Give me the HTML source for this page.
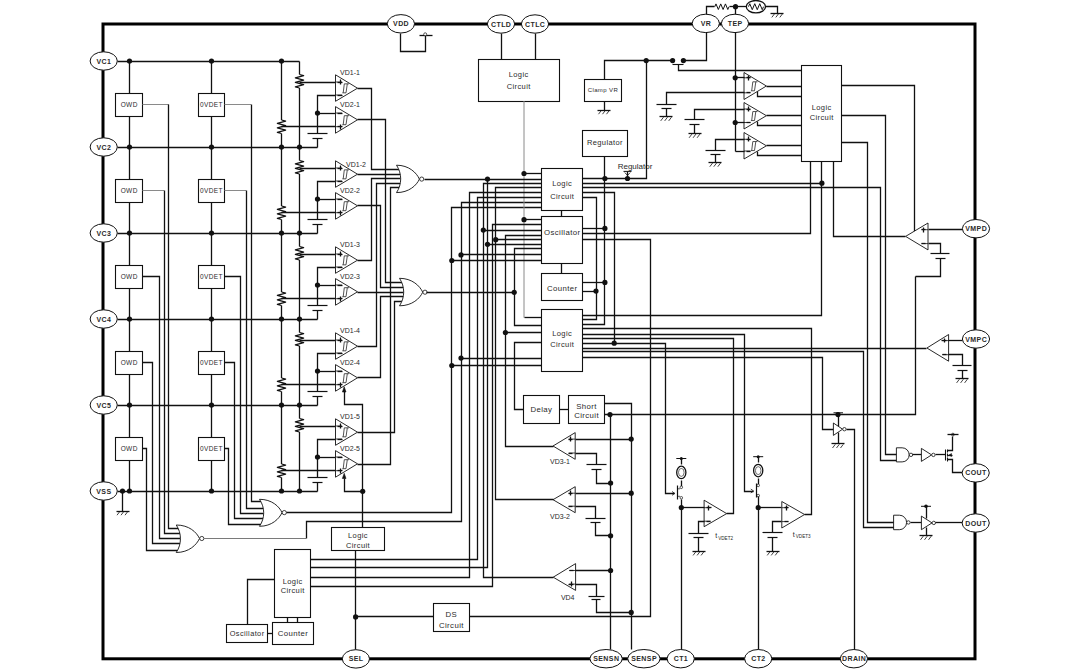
<!DOCTYPE html>
<html><head><meta charset="utf-8"><title>Circuit</title>
<style>
html,body{margin:0;padding:0;background:#fff;}
body{width:1080px;height:669px;overflow:hidden;}
svg{display:block;font-family:"Liberation Sans", sans-serif;}
</style></head>
<body>
<svg width="1080" height="669" viewBox="0 0 1080 669">
<rect x="0" y="0" width="1080" height="669" fill="#fff"/>
<rect x="103" y="24" width="872" height="634.8" fill="none" stroke="#000" stroke-width="3"/>
<polyline points="117.5,61.5 299.5,61.5" fill="none" stroke="#111" stroke-width="1.3"/>
<polyline points="117.5,147.5 317.5,147.5" fill="none" stroke="#111" stroke-width="1.3"/>
<polyline points="117.5,233.5 317.5,233.5" fill="none" stroke="#111" stroke-width="1.3"/>
<polyline points="117.5,319.5 317.5,319.5" fill="none" stroke="#111" stroke-width="1.3"/>
<polyline points="117.5,405.5 317.5,405.5" fill="none" stroke="#111" stroke-width="1.3"/>
<polyline points="117.5,491.5 317.5,491.5" fill="none" stroke="#111" stroke-width="1.3"/>
<polyline points="129.5,61.5 129.5,491.5" fill="none" stroke="#111" stroke-width="1.3"/>
<polyline points="211.5,61.5 211.5,491.5" fill="none" stroke="#111" stroke-width="1.3"/>
<polyline points="281.5,61.5 281.5,491.5" fill="none" stroke="#111" stroke-width="1.3"/>
<polyline points="299.5,61.5 299.5,491.5" fill="none" stroke="#111" stroke-width="1.3"/>
<rect x="115.5" y="93.5" width="27" height="23" fill="#fff" stroke="#111" stroke-width="1.1"/>
<text x="129.2" y="106.84" font-size="6.5" text-anchor="middle" fill="#2a2a2a" letter-spacing="0.4">OWD</text>
<rect x="198.5" y="93.5" width="26" height="23" fill="#fff" stroke="#111" stroke-width="1.1"/>
<text x="211.45" y="106.84" font-size="6.5" text-anchor="middle" fill="#2a2a2a" letter-spacing="0.4">0VDET</text>
<polyline points="142.5,104.5 168.75,104.5" fill="none" stroke="#8a8a8a" stroke-width="1"/>
<polyline points="224.5,104.5 251,104.5" fill="none" stroke="#8a8a8a" stroke-width="1"/>
<polyline points="168.5,104.5 168.5,528.5 180.5,528.5" fill="none" stroke="#111" stroke-width="1.3"/>
<polyline points="251.5,104.5 251.5,501.5 263.5,501.5" fill="none" stroke="#111" stroke-width="1.3"/>
<rect x="295.5" y="74.5" width="8" height="13.5" fill="#fff"/>
<polyline points="299.5,74.5 303.7,75.62 295.3,77.88 303.7,80.12 295.3,82.38 303.7,84.62 295.3,86.88 299.5,88" fill="none" stroke="#111" stroke-width="1.1" stroke-linejoin="round"/>
<rect x="277.5" y="120" width="8" height="13.5" fill="#fff"/>
<polyline points="281.5,120 285.7,121.12 277.3,123.38 285.7,125.62 277.3,127.88 285.7,130.12 277.3,132.38 281.5,133.5" fill="none" stroke="#111" stroke-width="1.1" stroke-linejoin="round"/>
<polyline points="299.5,82.5 335.5,82.5" fill="none" stroke="#111" stroke-width="1.3"/>
<polyline points="281.5,126.5 335.5,126.5" fill="none" stroke="#111" stroke-width="1.3"/>
<polyline points="335.5,95.5 317.5,95.5 317.5,133.5" fill="none" stroke="#111" stroke-width="1.3"/>
<circle cx="317.5" cy="113" r="2.6" fill="#111"/>
<polyline points="317.5,113.5 335.5,113.5" fill="none" stroke="#111" stroke-width="1.3"/>
<polyline points="307.5,133.5 327.5,133.5" fill="none" stroke="#111" stroke-width="1.2"/>
<polyline points="312.5,138.5 322.5,138.5" fill="none" stroke="#111" stroke-width="1.2"/>
<polyline points="317.5,138.5 317.5,147.5" fill="none" stroke="#111" stroke-width="1.3"/>
<path d="M335.5 74.8 L357.5 88.2 L335.5 101.3 Z" fill="#fff" stroke="#111" stroke-width="0.9"/>
<polyline points="335.5,82 342,82" fill="none" stroke="#111" stroke-width="0.8"/>
<polyline points="335.5,95 342,95" fill="none" stroke="#111" stroke-width="0.8"/>
<polyline points="337.5,82.5 342.5,82.5" fill="none" stroke="#111" stroke-width="1.3"/>
<polyline points="340.5,79.5 340.5,84.5" fill="none" stroke="#111" stroke-width="1.3"/>
<polyline points="337.5,95.5 342.5,95.5" fill="none" stroke="#111" stroke-width="1.3"/>
<path d="M349 83.85 H344.3 L343.2 92.85 M342.4 92.85 H346 L347.3 83.85" fill="none" stroke="#333" stroke-width="0.85"/>
<path d="M335.5 106.6 L357.5 119.8 L335.5 133.2 Z" fill="#fff" stroke="#111" stroke-width="0.9"/>
<polyline points="335.5,126.7 342,126.7" fill="none" stroke="#111" stroke-width="0.8"/>
<polyline points="335.5,113 342,113" fill="none" stroke="#111" stroke-width="0.8"/>
<polyline points="337.5,126.5 342.5,126.5" fill="none" stroke="#111" stroke-width="1.3"/>
<polyline points="340.5,124.5 340.5,129.5" fill="none" stroke="#111" stroke-width="1.3"/>
<polyline points="337.5,113.5 342.5,113.5" fill="none" stroke="#111" stroke-width="1.3"/>
<path d="M349 115.7 H344.3 L343.2 124.7 M342.4 124.7 H346 L347.3 115.7" fill="none" stroke="#333" stroke-width="0.85"/>
<text x="350" y="74.72" font-size="7" text-anchor="middle" fill="#2a2a2a">VD1-1</text>
<text x="350" y="106.72" font-size="7" text-anchor="middle" fill="#2a2a2a">VD2-1</text>
<rect x="115.5" y="179.5" width="27" height="23" fill="#fff" stroke="#111" stroke-width="1.1"/>
<text x="129.2" y="192.84" font-size="6.5" text-anchor="middle" fill="#2a2a2a" letter-spacing="0.4">OWD</text>
<rect x="198.5" y="179.5" width="26" height="23" fill="#fff" stroke="#111" stroke-width="1.1"/>
<text x="211.45" y="192.84" font-size="6.5" text-anchor="middle" fill="#2a2a2a" letter-spacing="0.4">0VDET</text>
<polyline points="142.5,190.5 164,190.5" fill="none" stroke="#8a8a8a" stroke-width="1"/>
<polyline points="224.5,190.5 246,190.5" fill="none" stroke="#8a8a8a" stroke-width="1"/>
<polyline points="164.5,190.5 164.5,533.5 180.5,533.5" fill="none" stroke="#111" stroke-width="1.3"/>
<polyline points="246.5,190.5 246.5,508.5 263.5,508.5" fill="none" stroke="#111" stroke-width="1.3"/>
<rect x="295.5" y="160.5" width="8" height="13.5" fill="#fff"/>
<polyline points="299.5,160.5 303.7,161.62 295.3,163.88 303.7,166.12 295.3,168.38 303.7,170.62 295.3,172.88 299.5,174" fill="none" stroke="#111" stroke-width="1.1" stroke-linejoin="round"/>
<rect x="277.5" y="206" width="8" height="13.5" fill="#fff"/>
<polyline points="281.5,206 285.7,207.12 277.3,209.38 285.7,211.62 277.3,213.88 285.7,216.12 277.3,218.38 281.5,219.5" fill="none" stroke="#111" stroke-width="1.1" stroke-linejoin="round"/>
<polyline points="299.5,168.5 335.5,168.5" fill="none" stroke="#111" stroke-width="1.3"/>
<polyline points="281.5,212.5 335.5,212.5" fill="none" stroke="#111" stroke-width="1.3"/>
<polyline points="335.5,181.5 317.5,181.5 317.5,219.5" fill="none" stroke="#111" stroke-width="1.3"/>
<circle cx="317.5" cy="199" r="2.6" fill="#111"/>
<polyline points="317.5,199.5 335.5,199.5" fill="none" stroke="#111" stroke-width="1.3"/>
<polyline points="307.5,219.5 327.5,219.5" fill="none" stroke="#111" stroke-width="1.2"/>
<polyline points="312.5,224.5 322.5,224.5" fill="none" stroke="#111" stroke-width="1.2"/>
<polyline points="317.5,224.5 317.5,233.5" fill="none" stroke="#111" stroke-width="1.3"/>
<path d="M335.5 160.8 L357.5 174.2 L335.5 187.3 Z" fill="#fff" stroke="#111" stroke-width="0.9"/>
<polyline points="335.5,168 342,168" fill="none" stroke="#111" stroke-width="0.8"/>
<polyline points="335.5,181 342,181" fill="none" stroke="#111" stroke-width="0.8"/>
<polyline points="337.5,168.5 342.5,168.5" fill="none" stroke="#111" stroke-width="1.3"/>
<polyline points="340.5,165.5 340.5,170.5" fill="none" stroke="#111" stroke-width="1.3"/>
<polyline points="337.5,181.5 342.5,181.5" fill="none" stroke="#111" stroke-width="1.3"/>
<path d="M349 169.85 H344.3 L343.2 178.85 M342.4 178.85 H346 L347.3 169.85" fill="none" stroke="#333" stroke-width="0.85"/>
<path d="M335.5 192.6 L357.5 205.8 L335.5 219.2 Z" fill="#fff" stroke="#111" stroke-width="0.9"/>
<polyline points="335.5,212.7 342,212.7" fill="none" stroke="#111" stroke-width="0.8"/>
<polyline points="335.5,199 342,199" fill="none" stroke="#111" stroke-width="0.8"/>
<polyline points="337.5,212.5 342.5,212.5" fill="none" stroke="#111" stroke-width="1.3"/>
<polyline points="340.5,210.5 340.5,215.5" fill="none" stroke="#111" stroke-width="1.3"/>
<polyline points="337.5,199.5 342.5,199.5" fill="none" stroke="#111" stroke-width="1.3"/>
<path d="M349 201.7 H344.3 L343.2 210.7 M342.4 210.7 H346 L347.3 201.7" fill="none" stroke="#333" stroke-width="0.85"/>
<text x="356" y="167.12" font-size="7" text-anchor="middle" fill="#2a2a2a">VD1-2</text>
<text x="350" y="192.72" font-size="7" text-anchor="middle" fill="#2a2a2a">VD2-2</text>
<rect x="115.5" y="265.5" width="27" height="23" fill="#fff" stroke="#111" stroke-width="1.1"/>
<text x="129.2" y="278.84" font-size="6.5" text-anchor="middle" fill="#2a2a2a" letter-spacing="0.4">OWD</text>
<rect x="198.5" y="265.5" width="26" height="23" fill="#fff" stroke="#111" stroke-width="1.1"/>
<text x="211.45" y="278.84" font-size="6.5" text-anchor="middle" fill="#2a2a2a" letter-spacing="0.4">0VDET</text>
<polyline points="142.5,276.5 159.5,276.5 159.5,538.5 180.5,538.5" fill="none" stroke="#111" stroke-width="1.3"/>
<polyline points="224.5,276.5 240.5,276.5 240.5,513.5 263.5,513.5" fill="none" stroke="#111" stroke-width="1.3"/>
<rect x="295.5" y="246.5" width="8" height="13.5" fill="#fff"/>
<polyline points="299.5,246.5 303.7,247.62 295.3,249.88 303.7,252.12 295.3,254.38 303.7,256.62 295.3,258.88 299.5,260" fill="none" stroke="#111" stroke-width="1.1" stroke-linejoin="round"/>
<rect x="277.5" y="292" width="8" height="13.5" fill="#fff"/>
<polyline points="281.5,292 285.7,293.12 277.3,295.38 285.7,297.62 277.3,299.88 285.7,302.12 277.3,304.38 281.5,305.5" fill="none" stroke="#111" stroke-width="1.1" stroke-linejoin="round"/>
<polyline points="299.5,254.5 335.5,254.5" fill="none" stroke="#111" stroke-width="1.3"/>
<polyline points="281.5,298.5 335.5,298.5" fill="none" stroke="#111" stroke-width="1.3"/>
<polyline points="335.5,267.5 317.5,267.5 317.5,305.5" fill="none" stroke="#111" stroke-width="1.3"/>
<circle cx="317.5" cy="285" r="2.6" fill="#111"/>
<polyline points="317.5,285.5 335.5,285.5" fill="none" stroke="#111" stroke-width="1.3"/>
<polyline points="307.5,305.5 327.5,305.5" fill="none" stroke="#111" stroke-width="1.2"/>
<polyline points="312.5,310.5 322.5,310.5" fill="none" stroke="#111" stroke-width="1.2"/>
<polyline points="317.5,310.5 317.5,319.5" fill="none" stroke="#111" stroke-width="1.3"/>
<path d="M335.5 246.8 L357.5 260.2 L335.5 273.3 Z" fill="#fff" stroke="#111" stroke-width="0.9"/>
<polyline points="335.5,254 342,254" fill="none" stroke="#111" stroke-width="0.8"/>
<polyline points="335.5,267 342,267" fill="none" stroke="#111" stroke-width="0.8"/>
<polyline points="337.5,254.5 342.5,254.5" fill="none" stroke="#111" stroke-width="1.3"/>
<polyline points="340.5,251.5 340.5,256.5" fill="none" stroke="#111" stroke-width="1.3"/>
<polyline points="337.5,267.5 342.5,267.5" fill="none" stroke="#111" stroke-width="1.3"/>
<path d="M349 255.85 H344.3 L343.2 264.85 M342.4 264.85 H346 L347.3 255.85" fill="none" stroke="#333" stroke-width="0.85"/>
<path d="M335.5 278.6 L357.5 291.8 L335.5 305.2 Z" fill="#fff" stroke="#111" stroke-width="0.9"/>
<polyline points="335.5,298.7 342,298.7" fill="none" stroke="#111" stroke-width="0.8"/>
<polyline points="335.5,285 342,285" fill="none" stroke="#111" stroke-width="0.8"/>
<polyline points="337.5,298.5 342.5,298.5" fill="none" stroke="#111" stroke-width="1.3"/>
<polyline points="340.5,296.5 340.5,301.5" fill="none" stroke="#111" stroke-width="1.3"/>
<polyline points="337.5,285.5 342.5,285.5" fill="none" stroke="#111" stroke-width="1.3"/>
<path d="M349 287.7 H344.3 L343.2 296.7 M342.4 296.7 H346 L347.3 287.7" fill="none" stroke="#333" stroke-width="0.85"/>
<text x="350" y="246.72" font-size="7" text-anchor="middle" fill="#2a2a2a">VD1-3</text>
<text x="350" y="278.72" font-size="7" text-anchor="middle" fill="#2a2a2a">VD2-3</text>
<rect x="115.5" y="351.5" width="27" height="23" fill="#fff" stroke="#111" stroke-width="1.1"/>
<text x="129.2" y="364.84" font-size="6.5" text-anchor="middle" fill="#2a2a2a" letter-spacing="0.4">OWD</text>
<rect x="198.5" y="351.5" width="26" height="23" fill="#fff" stroke="#111" stroke-width="1.1"/>
<text x="211.45" y="364.84" font-size="6.5" text-anchor="middle" fill="#2a2a2a" letter-spacing="0.4">0VDET</text>
<polyline points="142.5,362.5 152.5,362.5 152.5,543.5 180.5,543.5" fill="none" stroke="#111" stroke-width="1.3"/>
<polyline points="224.5,362.5 234.5,362.5 234.5,518.5 263.5,518.5" fill="none" stroke="#111" stroke-width="1.3"/>
<rect x="295.5" y="332.5" width="8" height="13.5" fill="#fff"/>
<polyline points="299.5,332.5 303.7,333.62 295.3,335.88 303.7,338.12 295.3,340.38 303.7,342.62 295.3,344.88 299.5,346" fill="none" stroke="#111" stroke-width="1.1" stroke-linejoin="round"/>
<rect x="277.5" y="378" width="8" height="13.5" fill="#fff"/>
<polyline points="281.5,378 285.7,379.12 277.3,381.38 285.7,383.62 277.3,385.88 285.7,388.12 277.3,390.38 281.5,391.5" fill="none" stroke="#111" stroke-width="1.1" stroke-linejoin="round"/>
<polyline points="299.5,340.5 335.5,340.5" fill="none" stroke="#111" stroke-width="1.3"/>
<polyline points="281.5,384.5 335.5,384.5" fill="none" stroke="#111" stroke-width="1.3"/>
<polyline points="335.5,353.5 317.5,353.5 317.5,391.5" fill="none" stroke="#111" stroke-width="1.3"/>
<circle cx="317.5" cy="371" r="2.6" fill="#111"/>
<polyline points="317.5,371.5 335.5,371.5" fill="none" stroke="#111" stroke-width="1.3"/>
<polyline points="307.5,391.5 327.5,391.5" fill="none" stroke="#111" stroke-width="1.2"/>
<polyline points="312.5,396.5 322.5,396.5" fill="none" stroke="#111" stroke-width="1.2"/>
<polyline points="317.5,396.5 317.5,405.5" fill="none" stroke="#111" stroke-width="1.3"/>
<path d="M335.5 332.8 L357.5 346.2 L335.5 359.3 Z" fill="#fff" stroke="#111" stroke-width="0.9"/>
<polyline points="335.5,340 342,340" fill="none" stroke="#111" stroke-width="0.8"/>
<polyline points="335.5,353 342,353" fill="none" stroke="#111" stroke-width="0.8"/>
<polyline points="337.5,340.5 342.5,340.5" fill="none" stroke="#111" stroke-width="1.3"/>
<polyline points="340.5,337.5 340.5,342.5" fill="none" stroke="#111" stroke-width="1.3"/>
<polyline points="337.5,353.5 342.5,353.5" fill="none" stroke="#111" stroke-width="1.3"/>
<path d="M349 341.85 H344.3 L343.2 350.85 M342.4 350.85 H346 L347.3 341.85" fill="none" stroke="#333" stroke-width="0.85"/>
<path d="M335.5 364.6 L357.5 377.8 L335.5 391.2 Z" fill="#fff" stroke="#111" stroke-width="0.9"/>
<polyline points="335.5,384.7 342,384.7" fill="none" stroke="#111" stroke-width="0.8"/>
<polyline points="335.5,371 342,371" fill="none" stroke="#111" stroke-width="0.8"/>
<polyline points="337.5,384.5 342.5,384.5" fill="none" stroke="#111" stroke-width="1.3"/>
<polyline points="340.5,382.5 340.5,387.5" fill="none" stroke="#111" stroke-width="1.3"/>
<polyline points="337.5,371.5 342.5,371.5" fill="none" stroke="#111" stroke-width="1.3"/>
<path d="M349 373.7 H344.3 L343.2 382.7 M342.4 382.7 H346 L347.3 373.7" fill="none" stroke="#333" stroke-width="0.85"/>
<text x="350" y="332.72" font-size="7" text-anchor="middle" fill="#2a2a2a">VD1-4</text>
<text x="350" y="364.72" font-size="7" text-anchor="middle" fill="#2a2a2a">VD2-4</text>
<rect x="115.5" y="437.5" width="27" height="23" fill="#fff" stroke="#111" stroke-width="1.1"/>
<text x="129.2" y="450.84" font-size="6.5" text-anchor="middle" fill="#2a2a2a" letter-spacing="0.4">OWD</text>
<rect x="198.5" y="437.5" width="26" height="23" fill="#fff" stroke="#111" stroke-width="1.1"/>
<text x="211.45" y="450.84" font-size="6.5" text-anchor="middle" fill="#2a2a2a" letter-spacing="0.4">0VDET</text>
<polyline points="142.5,448.5 146.5,448.5 146.5,550.5 180.5,550.5" fill="none" stroke="#111" stroke-width="1.3"/>
<polyline points="224.5,448.5 228.5,448.5 228.5,524.5 263.5,524.5" fill="none" stroke="#111" stroke-width="1.3"/>
<rect x="295.5" y="418.5" width="8" height="13.5" fill="#fff"/>
<polyline points="299.5,418.5 303.7,419.62 295.3,421.88 303.7,424.12 295.3,426.38 303.7,428.62 295.3,430.88 299.5,432" fill="none" stroke="#111" stroke-width="1.1" stroke-linejoin="round"/>
<rect x="277.5" y="464" width="8" height="13.5" fill="#fff"/>
<polyline points="281.5,464 285.7,465.12 277.3,467.38 285.7,469.62 277.3,471.88 285.7,474.12 277.3,476.38 281.5,477.5" fill="none" stroke="#111" stroke-width="1.1" stroke-linejoin="round"/>
<polyline points="299.5,426.5 335.5,426.5" fill="none" stroke="#111" stroke-width="1.3"/>
<polyline points="281.5,470.5 335.5,470.5" fill="none" stroke="#111" stroke-width="1.3"/>
<polyline points="335.5,439.5 317.5,439.5 317.5,477.5" fill="none" stroke="#111" stroke-width="1.3"/>
<circle cx="317.5" cy="457" r="2.6" fill="#111"/>
<polyline points="317.5,457.5 335.5,457.5" fill="none" stroke="#111" stroke-width="1.3"/>
<polyline points="307.5,477.5 327.5,477.5" fill="none" stroke="#111" stroke-width="1.2"/>
<polyline points="312.5,482.5 322.5,482.5" fill="none" stroke="#111" stroke-width="1.2"/>
<polyline points="317.5,482.5 317.5,491.5" fill="none" stroke="#111" stroke-width="1.3"/>
<path d="M335.5 418.8 L357.5 432.2 L335.5 445.3 Z" fill="#fff" stroke="#111" stroke-width="0.9"/>
<polyline points="335.5,426 342,426" fill="none" stroke="#111" stroke-width="0.8"/>
<polyline points="335.5,439 342,439" fill="none" stroke="#111" stroke-width="0.8"/>
<polyline points="337.5,426.5 342.5,426.5" fill="none" stroke="#111" stroke-width="1.3"/>
<polyline points="340.5,423.5 340.5,428.5" fill="none" stroke="#111" stroke-width="1.3"/>
<polyline points="337.5,439.5 342.5,439.5" fill="none" stroke="#111" stroke-width="1.3"/>
<path d="M349 427.85 H344.3 L343.2 436.85 M342.4 436.85 H346 L347.3 427.85" fill="none" stroke="#333" stroke-width="0.85"/>
<path d="M335.5 450.6 L357.5 463.8 L335.5 477.2 Z" fill="#fff" stroke="#111" stroke-width="0.9"/>
<polyline points="335.5,470.7 342,470.7" fill="none" stroke="#111" stroke-width="0.8"/>
<polyline points="335.5,457 342,457" fill="none" stroke="#111" stroke-width="0.8"/>
<polyline points="337.5,470.5 342.5,470.5" fill="none" stroke="#111" stroke-width="1.3"/>
<polyline points="340.5,468.5 340.5,473.5" fill="none" stroke="#111" stroke-width="1.3"/>
<polyline points="337.5,457.5 342.5,457.5" fill="none" stroke="#111" stroke-width="1.3"/>
<path d="M349 459.7 H344.3 L343.2 468.7 M342.4 468.7 H346 L347.3 459.7" fill="none" stroke="#333" stroke-width="0.85"/>
<text x="350" y="418.72" font-size="7" text-anchor="middle" fill="#2a2a2a">VD1-5</text>
<text x="350" y="450.72" font-size="7" text-anchor="middle" fill="#2a2a2a">VD2-5</text>
<circle cx="129.5" cy="61" r="2.6" fill="#111"/>
<circle cx="211.5" cy="61" r="2.6" fill="#111"/>
<circle cx="281.5" cy="61" r="2.6" fill="#111"/>
<circle cx="129.5" cy="147" r="2.6" fill="#111"/>
<circle cx="211.5" cy="147" r="2.6" fill="#111"/>
<circle cx="281.5" cy="147" r="2.6" fill="#111"/>
<circle cx="299.5" cy="147" r="2.6" fill="#111"/>
<circle cx="129.5" cy="233" r="2.6" fill="#111"/>
<circle cx="211.5" cy="233" r="2.6" fill="#111"/>
<circle cx="281.5" cy="233" r="2.6" fill="#111"/>
<circle cx="299.5" cy="233" r="2.6" fill="#111"/>
<circle cx="129.5" cy="319" r="2.6" fill="#111"/>
<circle cx="211.5" cy="319" r="2.6" fill="#111"/>
<circle cx="281.5" cy="319" r="2.6" fill="#111"/>
<circle cx="299.5" cy="319" r="2.6" fill="#111"/>
<circle cx="129.5" cy="405" r="2.6" fill="#111"/>
<circle cx="211.5" cy="405" r="2.6" fill="#111"/>
<circle cx="281.5" cy="405" r="2.6" fill="#111"/>
<circle cx="299.5" cy="405" r="2.6" fill="#111"/>
<circle cx="129.5" cy="491" r="2.6" fill="#111"/>
<circle cx="211.5" cy="491" r="2.6" fill="#111"/>
<circle cx="281.5" cy="491" r="2.6" fill="#111"/>
<circle cx="299.5" cy="491" r="2.6" fill="#111"/>
<circle cx="122.5" cy="491" r="2.6" fill="#111"/>
<polyline points="122.5,491.5 122.5,511.5" fill="none" stroke="#111" stroke-width="1.3"/>
<polyline points="116.5,511.5 129.5,511.5" fill="none" stroke="#111" stroke-width="1.3"/>
<polyline points="119.8,511.5 117,515.2" fill="none" stroke="#111" stroke-width="0.8"/>
<polyline points="123.8,511.5 121,515.2" fill="none" stroke="#111" stroke-width="0.8"/>
<polyline points="127.8,511.5 125,515.2" fill="none" stroke="#111" stroke-width="0.8"/>
<polyline points="357.5,88.5 371.5,88.5 371.5,169.5 400.5,169.5" fill="none" stroke="#111" stroke-width="1.3"/>
<polyline points="357.5,174.5 400.5,174.5" fill="none" stroke="#111" stroke-width="1.3"/>
<polyline points="357.5,260.5 371.5,260.5 371.5,178.5 400.5,178.5" fill="none" stroke="#111" stroke-width="1.3"/>
<polyline points="357.5,346.5 376.5,346.5 376.5,183.5 400.5,183.5" fill="none" stroke="#111" stroke-width="1.3"/>
<polyline points="357.5,464.5 390.5,464.5 390.5,187.5 399.5,187.5" fill="none" stroke="#111" stroke-width="1.3"/>
<polyline points="357.5,119.5 385.5,119.5 385.5,282.5 403.5,282.5" fill="none" stroke="#111" stroke-width="1.3"/>
<polyline points="357.5,205.5 380.5,205.5 380.5,287.5 403.5,287.5" fill="none" stroke="#111" stroke-width="1.3"/>
<polyline points="357.5,292.5 403.5,292.5" fill="none" stroke="#111" stroke-width="1.3"/>
<polyline points="357.5,377.5 380.5,377.5 380.5,296.5 403.5,296.5" fill="none" stroke="#111" stroke-width="1.3"/>
<polyline points="357.5,432.5 394.5,432.5 394.5,301.5 402.5,301.5" fill="none" stroke="#111" stroke-width="1.3"/>
<path d="M396.5 165.2 C409.09 165.2 416.65 172.94 419.4 179.1 C416.65 185.26 409.09 192.6 396.5 192.6 C402.1 184.38 402.1 173.42 396.5 165.2 Z" fill="#fff" stroke="#111" stroke-width="0.9"/>
<circle cx="421.7" cy="179.1" r="2.1" fill="#fff" stroke="#111" stroke-width="0.8"/>
<path d="M399.5 278.3 C412.26 278.3 419.92 286.01 422.7 292.2 C419.92 298.39 412.26 305.8 399.5 305.8 C405.1 297.55 405.1 286.55 399.5 278.3 Z" fill="#fff" stroke="#111" stroke-width="0.9"/>
<circle cx="425" cy="292.2" r="2.1" fill="#fff" stroke="#111" stroke-width="0.8"/>
<path d="M176.25 525 C189.04 525 196.71 532.31 199.5 538.5 C196.71 544.69 189.04 552.5 176.25 552.5 C181.85 544.25 181.85 533.25 176.25 525 Z" fill="#fff" stroke="#111" stroke-width="0.9"/>
<circle cx="201.8" cy="538.5" r="2.1" fill="#fff" stroke="#111" stroke-width="0.8"/>
<path d="M259.5 499.3 C271.88 499.3 279.3 506.53 282 512.6 C279.3 518.67 271.88 526.3 259.5 526.3 C265.1 518.2 265.1 507.4 259.5 499.3 Z" fill="#fff" stroke="#111" stroke-width="0.9"/>
<circle cx="284.3" cy="512.6" r="2.1" fill="#fff" stroke="#111" stroke-width="0.8"/>
<polyline points="204,538.5 306,538.5" fill="none" stroke="#7a7a7a" stroke-width="1"/>
<polyline points="306.5,538.5 306.5,521.5 461.5,521.5 461.5,202.5 541.5,202.5" fill="none" stroke="#111" stroke-width="1.3"/>
<polyline points="286.5,512.5 451.5,512.5 451.5,207.5 541.5,207.5" fill="none" stroke="#111" stroke-width="1.3"/>
<rect x="478.5" y="59.5" width="81" height="42" fill="#fff" stroke="#111" stroke-width="1.1"/>
<text x="518.7" y="76.7" font-size="7.5" text-anchor="middle" fill="#2a2a2a" letter-spacing="0.4">Logic</text>
<text x="518.7" y="88.7" font-size="7.5" text-anchor="middle" fill="#2a2a2a" letter-spacing="0.4">Circuit</text>
<rect x="584.5" y="79.5" width="37" height="22" fill="#fff" stroke="#111" stroke-width="1.1"/>
<text x="602.95" y="92.16" font-size="6" text-anchor="middle" fill="#2a2a2a" letter-spacing="0.4">Clamp VR</text>
<rect x="582.5" y="130.5" width="45" height="26" fill="#fff" stroke="#111" stroke-width="1.1"/>
<text x="604.95" y="144.5" font-size="7.5" text-anchor="middle" fill="#2a2a2a" letter-spacing="0.4">Regulator</text>
<rect x="541.5" y="168.5" width="41" height="42" fill="#fff" stroke="#111" stroke-width="1.1"/>
<text x="562.2" y="186.3" font-size="7.5" text-anchor="middle" fill="#2a2a2a" letter-spacing="0.4">Logic</text>
<text x="562.2" y="199.1" font-size="7.5" text-anchor="middle" fill="#2a2a2a" letter-spacing="0.4">Circuit</text>
<rect x="541.5" y="216.5" width="41" height="47" fill="#fff" stroke="#111" stroke-width="1.1"/>
<text x="562.2" y="235.31" font-size="7.8" text-anchor="middle" fill="#2a2a2a" letter-spacing="0.4">Oscillator</text>
<rect x="541.5" y="273.5" width="41" height="27" fill="#fff" stroke="#111" stroke-width="1.1"/>
<text x="562.2" y="291.41" font-size="7.8" text-anchor="middle" fill="#2a2a2a" letter-spacing="0.4">Counter</text>
<rect x="541.5" y="309.5" width="41" height="62" fill="#fff" stroke="#111" stroke-width="1.1"/>
<text x="562.2" y="336" font-size="7.5" text-anchor="middle" fill="#2a2a2a" letter-spacing="0.4">Logic</text>
<text x="562.2" y="347" font-size="7.5" text-anchor="middle" fill="#2a2a2a" letter-spacing="0.4">Circuit</text>
<rect x="523.5" y="395.5" width="36" height="28" fill="#fff" stroke="#111" stroke-width="1.1"/>
<text x="541.45" y="412.36" font-size="7.8" text-anchor="middle" fill="#2a2a2a" letter-spacing="0.4">Delay</text>
<rect x="568.5" y="395.5" width="36" height="28" fill="#fff" stroke="#111" stroke-width="1.1"/>
<text x="586.6" y="408.51" font-size="7.8" text-anchor="middle" fill="#2a2a2a" letter-spacing="0.4">Short</text>
<text x="586.6" y="418.31" font-size="7.8" text-anchor="middle" fill="#2a2a2a" letter-spacing="0.4">Circuit</text>
<rect x="433.5" y="603.5" width="36" height="28" fill="#fff" stroke="#111" stroke-width="1.1"/>
<text x="451.4" y="617.36" font-size="7.8" text-anchor="middle" fill="#2a2a2a" letter-spacing="0.4">DS</text>
<text x="451.4" y="627.86" font-size="7.8" text-anchor="middle" fill="#2a2a2a" letter-spacing="0.4">Circuit</text>
<rect x="331.5" y="527.5" width="53" height="23" fill="#fff" stroke="#111" stroke-width="1.1"/>
<text x="358" y="537.75" font-size="7.5" text-anchor="middle" fill="#2a2a2a" letter-spacing="0.4">Logic</text>
<text x="358" y="548.25" font-size="7.5" text-anchor="middle" fill="#2a2a2a" letter-spacing="0.4">Circuit</text>
<rect x="274.5" y="549.5" width="36" height="68" fill="#fff" stroke="#111" stroke-width="1.1"/>
<text x="292.7" y="583.95" font-size="7.5" text-anchor="middle" fill="#2a2a2a" letter-spacing="0.4">Logic</text>
<text x="292.7" y="593.45" font-size="7.5" text-anchor="middle" fill="#2a2a2a" letter-spacing="0.4">Circuit</text>
<rect x="226.5" y="624.5" width="41" height="18" fill="#fff" stroke="#111" stroke-width="1.1"/>
<text x="247.1" y="635.91" font-size="7.4" text-anchor="middle" fill="#2a2a2a" letter-spacing="0.4">Oscillator</text>
<rect x="272.5" y="622.5" width="41" height="22" fill="#fff" stroke="#111" stroke-width="1.1"/>
<text x="292.95" y="636.06" font-size="7.8" text-anchor="middle" fill="#2a2a2a" letter-spacing="0.4">Counter</text>
<rect x="801.5" y="65.5" width="40" height="96" fill="#fff" stroke="#111" stroke-width="1.1"/>
<text x="821.7" y="110.25" font-size="7.5" text-anchor="middle" fill="#2a2a2a" letter-spacing="0.4">Logic</text>
<text x="821.7" y="119.75" font-size="7.5" text-anchor="middle" fill="#2a2a2a" letter-spacing="0.4">Circuit</text>
<text x="635" y="169.18" font-size="8" text-anchor="middle" fill="#2a2a2a">Regulator</text>
<polyline points="501.5,33.5 501.5,59.5" fill="none" stroke="#111" stroke-width="1.3"/>
<polyline points="535.5,33.5 535.5,59.5" fill="none" stroke="#111" stroke-width="1.3"/>
<polyline points="524,101 524,317.7" fill="none" stroke="#8a8a8a" stroke-width="1"/>
<polyline points="524.5,317.5 541.5,317.5" fill="none" stroke="#111" stroke-width="1.3"/>
<circle cx="524" cy="173.5" r="2.6" fill="#111"/>
<polyline points="524.5,173.5 541.5,173.5" fill="none" stroke="#111" stroke-width="1.3"/>
<circle cx="524" cy="219.7" r="2.6" fill="#111"/>
<polyline points="524.5,219.5 541.5,219.5" fill="none" stroke="#111" stroke-width="1.3"/>
<polyline points="424.5,179.5 541.5,179.5" fill="none" stroke="#111" stroke-width="1.3"/>
<circle cx="487.5" cy="179.1" r="2.6" fill="#111"/>
<polyline points="541.5,183.5 483.5,183.5 483.5,577.5 553.5,577.5" fill="none" stroke="#111" stroke-width="1.3"/>
<circle cx="483.3" cy="230.1" r="2.6" fill="#111"/>
<polyline points="483.5,230.5 541.5,230.5" fill="none" stroke="#111" stroke-width="1.3"/>
<polyline points="541.5,187.5 495.5,187.5 495.5,499.5 553.5,499.5" fill="none" stroke="#111" stroke-width="1.3"/>
<circle cx="495.7" cy="239.7" r="2.6" fill="#111"/>
<polyline points="495.5,239.5 541.5,239.5" fill="none" stroke="#111" stroke-width="1.3"/>
<polyline points="541.5,192.5 469.5,192.5 469.5,577.5 310.5,577.5" fill="none" stroke="#111" stroke-width="1.3"/>
<polyline points="541.5,197.5 477.5,197.5 477.5,559.5 310.5,559.5" fill="none" stroke="#111" stroke-width="1.3"/>
<circle cx="461" cy="254.9" r="2.6" fill="#111"/>
<polyline points="461.5,254.5 541.5,254.5" fill="none" stroke="#111" stroke-width="1.3"/>
<circle cx="461" cy="358.1" r="2.6" fill="#111"/>
<polyline points="461.5,358.5 541.5,358.5" fill="none" stroke="#111" stroke-width="1.3"/>
<circle cx="451.8" cy="260.5" r="2.6" fill="#111"/>
<polyline points="451.5,260.5 541.5,260.5" fill="none" stroke="#111" stroke-width="1.3"/>
<circle cx="451.8" cy="365.5" r="2.6" fill="#111"/>
<polyline points="451.5,365.5 541.5,365.5" fill="none" stroke="#111" stroke-width="1.3"/>
<polyline points="541.5,224.5 492.5,224.5 492.5,586.5 310.5,586.5" fill="none" stroke="#111" stroke-width="1.3"/>
<polyline points="541.5,235.5 505.5,235.5 505.5,446.5 553.5,446.5" fill="none" stroke="#111" stroke-width="1.3"/>
<circle cx="505.4" cy="332.5" r="2.6" fill="#111"/>
<polyline points="505.5,332.5 541.5,332.5" fill="none" stroke="#111" stroke-width="1.3"/>
<polyline points="487.5,179.5 487.5,567.5 310.5,567.5" fill="none" stroke="#111" stroke-width="1.3"/>
<circle cx="487.5" cy="244.3" r="2.6" fill="#111"/>
<polyline points="487.5,244.5 541.5,244.5" fill="none" stroke="#111" stroke-width="1.3"/>
<polyline points="541.5,248.5 514.5,248.5 514.5,325.5 541.5,325.5" fill="none" stroke="#111" stroke-width="1.3"/>
<polyline points="426.5,292.5 514.5,292.5" fill="none" stroke="#111" stroke-width="1.3"/>
<circle cx="514.2" cy="292.3" r="2.6" fill="#111"/>
<polyline points="541.5,342.5 514.5,342.5 514.5,409.5 523.5,409.5" fill="none" stroke="#111" stroke-width="1.3"/>
<polyline points="561.5,210.5 561.5,216.5" fill="none" stroke="#111" stroke-width="1.3"/>
<polyline points="561.5,263.5 561.5,273.5" fill="none" stroke="#111" stroke-width="1.3"/>
<polyline points="582.5,178.5 646.5,178.5 646.5,60.5" fill="none" stroke="#111" stroke-width="1.3"/>
<circle cx="604.9" cy="178.5" r="2.6" fill="#111"/>
<circle cx="627.5" cy="178.5" r="2.6" fill="#111"/>
<polyline points="627.5,171.5 627.5,178.5" fill="none" stroke="#111" stroke-width="1.3"/>
<polyline points="623.5,171.4 631.5,171.4" fill="none" stroke="#111" stroke-width="1"/>
<polyline points="624.8,172.5 627.5,175.5 630.2,172.5" fill="none" stroke="#111" stroke-width="0.8"/>
<polyline points="582.5,183.5 821.5,183.5" fill="none" stroke="#111" stroke-width="1.3"/>
<circle cx="821.9" cy="183.2" r="2.6" fill="#111"/>
<polyline points="582.5,187.5 880.5,187.5 880.5,460.5 898.5,460.5" fill="none" stroke="#111" stroke-width="1.3"/>
<polyline points="582.5,192.5 614.5,192.5 614.5,343.5" fill="none" stroke="#111" stroke-width="1.3"/>
<polyline points="582.5,197.5 596.5,197.5 596.5,319.5 582.5,319.5" fill="none" stroke="#111" stroke-width="1.3"/>
<polyline points="604.5,156.5 604.5,324.5 582.5,324.5" fill="none" stroke="#111" stroke-width="1.3"/>
<circle cx="604.9" cy="228.4" r="2.6" fill="#111"/>
<circle cx="604.9" cy="282.4" r="2.6" fill="#111"/>
<polyline points="582.5,228.5 604.5,228.5" fill="none" stroke="#111" stroke-width="1.3"/>
<polyline points="582.5,233.5 810.5,233.5 810.5,161.5" fill="none" stroke="#111" stroke-width="1.3"/>
<polyline points="582.5,239.5 650.5,239.5 650.5,616.5 469.5,616.5" fill="none" stroke="#111" stroke-width="1.3"/>
<polyline points="582.5,282.5 604.5,282.5" fill="none" stroke="#111" stroke-width="1.3"/>
<polyline points="582.5,291.5 596.5,291.5" fill="none" stroke="#111" stroke-width="1.3"/>
<circle cx="596" cy="291.1" r="2.6" fill="#111"/>
<polyline points="582.5,315.5 821.5,315.5 821.5,161.5" fill="none" stroke="#111" stroke-width="1.3"/>
<polyline points="582.5,328.5 811.5,328.5 811.5,514.5 804.5,514.5" fill="none" stroke="#111" stroke-width="1.3"/>
<polyline points="582.5,334.5 744.5,334.5 744.5,491.5 753.5,491.5" fill="none" stroke="#111" stroke-width="1.3"/>
<polyline points="582.5,338.5 733.5,338.5 733.5,513.5 726.5,513.5" fill="none" stroke="#111" stroke-width="1.3"/>
<polyline points="582.5,343.5 665.5,343.5 665.5,493.5 674.5,493.5" fill="none" stroke="#111" stroke-width="1.3"/>
<circle cx="614.2" cy="343.2" r="2.6" fill="#111"/>
<polyline points="582.5,348.5 926.5,348.5" fill="none" stroke="#111" stroke-width="1.3"/>
<polyline points="582.5,351.5 863.5,351.5 863.5,527.5 896.5,527.5" fill="none" stroke="#111" stroke-width="1.3"/>
<polyline points="582.5,357.5 822.5,357.5 822.5,429.5 833.5,429.5" fill="none" stroke="#111" stroke-width="1.3"/>
<polyline points="559.5,409.5 568.5,409.5" fill="none" stroke="#111" stroke-width="1.3"/>
<polyline points="604.5,403.5 631.5,403.5 631.5,649.5" fill="none" stroke="#111" stroke-width="1.3"/>
<polyline points="604.5,414.5 915.5,414.5 915.5,276.5" fill="none" stroke="#111" stroke-width="1.3"/>
<circle cx="610" cy="414.6" r="2.6" fill="#111"/>
<polyline points="610.5,414.5 610.5,649.5" fill="none" stroke="#111" stroke-width="1.3"/>
<path d="M575.2 432.6 L553 446 L575.2 459.3 Z" fill="#fff" stroke="#111" stroke-width="0.9"/>
<polyline points="568.7,439.1 575.2,439.1" fill="none" stroke="#111" stroke-width="0.8"/>
<polyline points="568.7,453 575.2,453" fill="none" stroke="#111" stroke-width="0.8"/>
<polyline points="568.5,439.5 572.5,439.5" fill="none" stroke="#111" stroke-width="1.3"/>
<polyline points="570.5,436.5 570.5,441.5" fill="none" stroke="#111" stroke-width="1.3"/>
<polyline points="568.5,453.5 572.5,453.5" fill="none" stroke="#111" stroke-width="1.3"/>
<polyline points="575.5,439.5 631.5,439.5" fill="none" stroke="#111" stroke-width="1.3"/>
<circle cx="631.2" cy="439.1" r="2.6" fill="#111"/>
<polyline points="575.5,453.5 596.5,453.5 596.5,464.5" fill="none" stroke="#111" stroke-width="1.3"/>
<polyline points="586.5,464.5 606.5,464.5" fill="none" stroke="#111" stroke-width="1.2"/>
<polyline points="591.5,469.5 601.5,469.5" fill="none" stroke="#111" stroke-width="1.2"/>
<polyline points="596.5,469.5 596.5,483.5 610.5,483.5" fill="none" stroke="#111" stroke-width="1.3"/>
<circle cx="610.6" cy="483" r="2.6" fill="#111"/>
<text x="560" y="463.52" font-size="7" text-anchor="middle" fill="#2a2a2a">VD3-1</text>
<path d="M575.2 486.7 L553 499.7 L575.2 512.7 Z" fill="#fff" stroke="#111" stroke-width="0.9"/>
<polyline points="568.7,493.2 575.2,493.2" fill="none" stroke="#111" stroke-width="0.8"/>
<polyline points="568.7,506.2 575.2,506.2" fill="none" stroke="#111" stroke-width="0.8"/>
<polyline points="568.5,493.5 572.5,493.5" fill="none" stroke="#111" stroke-width="1.3"/>
<polyline points="570.5,490.5 570.5,495.5" fill="none" stroke="#111" stroke-width="1.3"/>
<polyline points="568.5,506.5 572.5,506.5" fill="none" stroke="#111" stroke-width="1.3"/>
<polyline points="575.5,493.5 631.5,493.5" fill="none" stroke="#111" stroke-width="1.3"/>
<circle cx="631.2" cy="493.2" r="2.6" fill="#111"/>
<polyline points="575.5,506.5 595.5,506.5 595.5,518.5" fill="none" stroke="#111" stroke-width="1.3"/>
<polyline points="585.5,518.5 605.5,518.5" fill="none" stroke="#111" stroke-width="1.2"/>
<polyline points="590.5,522.5 600.5,522.5" fill="none" stroke="#111" stroke-width="1.2"/>
<polyline points="595.5,522.5 595.5,535.5 610.5,535.5" fill="none" stroke="#111" stroke-width="1.3"/>
<circle cx="610.6" cy="535.8" r="2.6" fill="#111"/>
<text x="560" y="519.02" font-size="7" text-anchor="middle" fill="#2a2a2a">VD3-2</text>
<path d="M575.6 563.6 L553.2 577.2 L575.6 590.4 Z" fill="#fff" stroke="#111" stroke-width="0.9"/>
<polyline points="569.1,584.1 575.6,584.1" fill="none" stroke="#111" stroke-width="0.8"/>
<polyline points="569.1,570.5 575.6,570.5" fill="none" stroke="#111" stroke-width="0.8"/>
<polyline points="568.5,584.5 573.5,584.5" fill="none" stroke="#111" stroke-width="1.3"/>
<polyline points="571.5,581.5 571.5,586.5" fill="none" stroke="#111" stroke-width="1.3"/>
<polyline points="569.5,570.5 573.5,570.5" fill="none" stroke="#111" stroke-width="1.3"/>
<polyline points="575.5,570.5 610.5,570.5" fill="none" stroke="#111" stroke-width="1.3"/>
<circle cx="610.6" cy="570.5" r="2.6" fill="#111"/>
<polyline points="575.5,584.5 596.5,584.5 596.5,596.5" fill="none" stroke="#111" stroke-width="1.3"/>
<polyline points="588.5,596.5 604.5,596.5" fill="none" stroke="#111" stroke-width="1.2"/>
<polyline points="591.5,599.5 600.5,599.5" fill="none" stroke="#111" stroke-width="1.2"/>
<polyline points="596.5,599.5 596.5,612.5 631.5,612.5" fill="none" stroke="#111" stroke-width="1.3"/>
<circle cx="631.2" cy="612.4" r="2.6" fill="#111"/>
<text x="567.7" y="600.02" font-size="7" text-anchor="middle" fill="#2a2a2a">VD4</text>
<polyline points="355.5,550.5 355.5,649.5" fill="none" stroke="#111" stroke-width="1.3"/>
<circle cx="355.6" cy="616.9" r="2.6" fill="#111"/>
<polyline points="355.5,616.5 433.5,616.5" fill="none" stroke="#111" stroke-width="1.3"/>
<polyline points="362.5,527.5 362.5,404.5 344.5,404.5 344.5,391.5" fill="none" stroke="#111" stroke-width="1.3"/>
<path d="M342.4 392 L344.2 386.8 L346 392 Z" fill="#111" stroke="#111" stroke-width="0.6"/>
<circle cx="362.7" cy="491.3" r="2.6" fill="#111"/>
<polyline points="362.5,491.5 344.5,491.5 344.5,478.5" fill="none" stroke="#111" stroke-width="1.3"/>
<path d="M342.4 478.5 L344.2 473.3 L346 478.5 Z" fill="#111" stroke="#111" stroke-width="0.6"/>
<polyline points="274.5,579.5 247.5,579.5 247.5,624.5" fill="none" stroke="#111" stroke-width="1.3"/>
<polyline points="287.5,617.5 287.5,622.5" fill="none" stroke="#111" stroke-width="1.3"/>
<polyline points="297.5,617.5 297.5,622.5" fill="none" stroke="#111" stroke-width="1.3"/>
<polyline points="267.5,633.5 272.5,633.5" fill="none" stroke="#111" stroke-width="1.3"/>
<polyline points="676.3,458.5 686.3,458.5" fill="none" stroke="#111" stroke-width="1"/>
<circle cx="681.3" cy="458.5" r="1.5" fill="#111"/>
<polyline points="681.5,458.5 681.5,464.5" fill="none" stroke="#111" stroke-width="1.3"/>
<ellipse cx="681.3" cy="472.4" rx="4.6" ry="6.2" fill="#fff" stroke="#111" stroke-width="1.3"/>
<ellipse cx="681.3" cy="472.4" rx="2.8" ry="4" fill="none" stroke="#111" stroke-width="0.6"/>
<polyline points="681.5,480.5 681.5,486.5" fill="none" stroke="#111" stroke-width="1.3"/>
<circle cx="681.3" cy="487.3" r="1.3" fill="#fff" stroke="#111" stroke-width="0.7"/>
<circle cx="681.3" cy="497.8" r="1.3" fill="#fff" stroke="#111" stroke-width="0.7"/>
<polyline points="681.5,499.5 681.5,649.5" fill="none" stroke="#111" stroke-width="1.3"/>
<circle cx="681.3" cy="507.7" r="2.6" fill="#111"/>
<polyline points="677.5,485.5 677.5,499.5" fill="none" stroke="#111" stroke-width="1.2"/>
<polyline points="677.6,488.8 680,488.8" fill="none" stroke="#111" stroke-width="0.7"/>
<polyline points="677.6,496.3 680,496.3" fill="none" stroke="#111" stroke-width="0.7"/>
<path d="M704.1 500.2 L726.7 513.6 L704.1 526.7 Z" fill="#fff" stroke="#111" stroke-width="0.9"/>
<polyline points="704.1,507.7 710.6,507.7" fill="none" stroke="#111" stroke-width="0.8"/>
<polyline points="704.1,521.2 710.6,521.2" fill="none" stroke="#111" stroke-width="0.8"/>
<polyline points="706.5,507.5 711.5,507.5" fill="none" stroke="#111" stroke-width="1.3"/>
<polyline points="708.5,505.5 708.5,510.5" fill="none" stroke="#111" stroke-width="1.3"/>
<polyline points="706.5,521.5 710.5,521.5" fill="none" stroke="#111" stroke-width="1.3"/>
<polyline points="681.5,507.5 704.5,507.5" fill="none" stroke="#111" stroke-width="1.3"/>
<polyline points="704.5,521.5 698.5,521.5 698.5,533.5" fill="none" stroke="#111" stroke-width="1.3"/>
<polyline points="688.5,533.5 708.5,533.5" fill="none" stroke="#111" stroke-width="1.2"/>
<polyline points="693.5,537.5 703.5,537.5" fill="none" stroke="#111" stroke-width="1.2"/>
<polyline points="698.5,537.5 698.5,551.5" fill="none" stroke="#111" stroke-width="1.3"/>
<polyline points="692.5,551.5 705.5,551.5" fill="none" stroke="#111" stroke-width="1.3"/>
<polyline points="695.9,551.7 693.1,555.4" fill="none" stroke="#111" stroke-width="0.8"/>
<polyline points="699.9,551.7 697.1,555.4" fill="none" stroke="#111" stroke-width="0.8"/>
<polyline points="703.9,551.7 701.1,555.4" fill="none" stroke="#111" stroke-width="0.8"/>
<text x="715.3" y="538.02" font-size="7" text-anchor="start" fill="#2a2a2a">t</text>
<polyline points="753.2,456.7 763.2,456.7" fill="none" stroke="#111" stroke-width="1"/>
<circle cx="758.2" cy="456.7" r="1.5" fill="#111"/>
<polyline points="758.5,456.5 758.5,462.5" fill="none" stroke="#111" stroke-width="1.3"/>
<ellipse cx="758.2" cy="470.6" rx="4.6" ry="6.2" fill="#fff" stroke="#111" stroke-width="1.3"/>
<ellipse cx="758.2" cy="470.6" rx="2.8" ry="4" fill="none" stroke="#111" stroke-width="0.6"/>
<polyline points="758.5,478.5 758.5,484.5" fill="none" stroke="#111" stroke-width="1.3"/>
<circle cx="758.2" cy="485.4" r="1.3" fill="#fff" stroke="#111" stroke-width="0.7"/>
<circle cx="758.2" cy="495.6" r="1.3" fill="#fff" stroke="#111" stroke-width="0.7"/>
<polyline points="758.5,496.5 758.5,649.5" fill="none" stroke="#111" stroke-width="1.3"/>
<circle cx="758.2" cy="507.7" r="2.6" fill="#111"/>
<polyline points="756.5,483.5 756.5,497.5" fill="none" stroke="#111" stroke-width="1.2"/>
<polyline points="756.4,486.9 756.9,486.9" fill="none" stroke="#111" stroke-width="0.7"/>
<polyline points="756.4,494.1 756.9,494.1" fill="none" stroke="#111" stroke-width="0.7"/>
<path d="M781.8 501.5 L804.6 514.5 L781.8 528 Z" fill="#fff" stroke="#111" stroke-width="0.9"/>
<polyline points="781.8,507.7 788.3,507.7" fill="none" stroke="#111" stroke-width="0.8"/>
<polyline points="781.8,521.6 788.3,521.6" fill="none" stroke="#111" stroke-width="0.8"/>
<polyline points="784.5,507.5 788.5,507.5" fill="none" stroke="#111" stroke-width="1.3"/>
<polyline points="786.5,505.5 786.5,510.5" fill="none" stroke="#111" stroke-width="1.3"/>
<polyline points="784.5,521.5 788.5,521.5" fill="none" stroke="#111" stroke-width="1.3"/>
<polyline points="758.5,507.5 781.5,507.5" fill="none" stroke="#111" stroke-width="1.3"/>
<polyline points="781.5,521.5 772.5,521.5 772.5,532.5" fill="none" stroke="#111" stroke-width="1.3"/>
<polyline points="762.5,532.5 782.5,532.5" fill="none" stroke="#111" stroke-width="1.2"/>
<polyline points="767.5,537.5 777.5,537.5" fill="none" stroke="#111" stroke-width="1.2"/>
<polyline points="772.5,537.5 772.5,551.5" fill="none" stroke="#111" stroke-width="1.3"/>
<polyline points="766.5,551.5 779.5,551.5" fill="none" stroke="#111" stroke-width="1.3"/>
<polyline points="770,551.7 767.2,555.4" fill="none" stroke="#111" stroke-width="0.8"/>
<polyline points="774,551.7 771.2,555.4" fill="none" stroke="#111" stroke-width="0.8"/>
<polyline points="778,551.7 775.2,555.4" fill="none" stroke="#111" stroke-width="0.8"/>
<text x="792.8" y="536.52" font-size="7" text-anchor="start" fill="#2a2a2a">t</text>
<text x="718.2" y="539.96" font-size="4.6" text-anchor="start" fill="#2a2a2a">VDET2</text>
<text x="795.8" y="538.46" font-size="4.6" text-anchor="start" fill="#2a2a2a">VDET3</text>
<polyline points="672,491.5 674.8,493.4 672,495.3" fill="none" stroke="#111" stroke-width="0.8"/>
<polyline points="750.8,489.1 753.6,491 750.8,492.9" fill="none" stroke="#111" stroke-width="0.8"/>
<polyline points="706.5,14.5 706.5,6.5 714.5,6.5" fill="none" stroke="#111" stroke-width="1.3"/>
<polyline points="714.8,6.7 715.98,3.9 718.35,9.5 720.72,3.9 723.08,9.5 725.45,3.9 727.82,9.5 729,6.7" fill="none" stroke="#111" stroke-width="1" stroke-linejoin="round"/>
<polyline points="729.5,6.5 746.5,6.5" fill="none" stroke="#111" stroke-width="1.3"/>
<circle cx="735.5" cy="6.7" r="2.6" fill="#111"/>
<polyline points="735.5,6.5 735.5,14.5" fill="none" stroke="#111" stroke-width="1.3"/>
<ellipse cx="755.9" cy="6.7" rx="9.6" ry="6.2" fill="#fff" stroke="#111" stroke-width="1.3"/>
<polyline points="748.5,6.7 749.75,3.7 752.25,9.7 754.75,3.7 757.25,9.7 759.75,3.7 762.25,9.7 763.5,6.7" fill="none" stroke="#111" stroke-width="1" stroke-linejoin="round"/>
<polyline points="765.5,6.5 777.5,6.5 777.5,13.5" fill="none" stroke="#111" stroke-width="1.3"/>
<polyline points="770.5,13.5 783.5,13.5" fill="none" stroke="#111" stroke-width="1.3"/>
<polyline points="774.6,13.7 771.8,17.4" fill="none" stroke="#111" stroke-width="0.8"/>
<polyline points="778.6,13.7 775.8,17.4" fill="none" stroke="#111" stroke-width="0.8"/>
<polyline points="782.6,13.7 779.8,17.4" fill="none" stroke="#111" stroke-width="0.8"/>
<polyline points="706.5,32.5 706.5,60.5 683.5,60.5" fill="none" stroke="#111" stroke-width="1.3"/>
<circle cx="683.4" cy="60.6" r="2.6" fill="#111"/>
<circle cx="672.6" cy="60.6" r="2.6" fill="#111"/>
<polyline points="604.5,79.5 604.5,60.5 672.5,60.5" fill="none" stroke="#111" stroke-width="1.3"/>
<circle cx="646.2" cy="60.6" r="2.6" fill="#111"/>
<polyline points="672.5,64.5 683.5,64.5" fill="none" stroke="#111" stroke-width="1.1"/>
<polyline points="678.5,64.5 678.5,70.5 801.5,70.5" fill="none" stroke="#111" stroke-width="1.3"/>
<polyline points="604.5,101.5 604.5,110.5" fill="none" stroke="#111" stroke-width="1.3"/>
<polyline points="597.5,110.5 610.5,110.5" fill="none" stroke="#111" stroke-width="1.3"/>
<polyline points="601.3,110.5 598.5,114.2" fill="none" stroke="#111" stroke-width="0.8"/>
<polyline points="605.3,110.5 602.5,114.2" fill="none" stroke="#111" stroke-width="0.8"/>
<polyline points="609.3,110.5 606.5,114.2" fill="none" stroke="#111" stroke-width="0.8"/>
<polyline points="735.5,32.5 735.5,151.5" fill="none" stroke="#111" stroke-width="1.3"/>
<circle cx="735.2" cy="77.8" r="2.6" fill="#111"/>
<circle cx="735.2" cy="122.5" r="2.6" fill="#111"/>
<path d="M744 72.5 L766.4 86 L744 99.5 Z" fill="#fff" stroke="#111" stroke-width="0.9"/>
<polyline points="744,77.8 750.5,77.8" fill="none" stroke="#111" stroke-width="0.8"/>
<polyline points="744,92.8 750.5,92.8" fill="none" stroke="#111" stroke-width="0.8"/>
<polyline points="746.5,77.5 750.5,77.5" fill="none" stroke="#111" stroke-width="1.3"/>
<polyline points="748.5,75.5 748.5,80.5" fill="none" stroke="#111" stroke-width="1.3"/>
<polyline points="746.5,92.5 750.5,92.5" fill="none" stroke="#111" stroke-width="1.3"/>
<path d="M757.5 81.8 H752.8 L751.7 90.8 M750.9 90.8 H754.5 L755.8 81.8" fill="none" stroke="#333" stroke-width="0.85"/>
<polyline points="766.5,86.5 801.5,86.5" fill="none" stroke="#111" stroke-width="1.3"/>
<polyline points="757.5,91.5 757.5,96.5 801.5,96.5" fill="none" stroke="#111" stroke-width="1.3"/>
<path d="M744 102.5 L766.4 115.7 L744 129 Z" fill="#fff" stroke="#111" stroke-width="0.9"/>
<polyline points="744,109 750.5,109" fill="none" stroke="#111" stroke-width="0.8"/>
<polyline points="744,122.5 750.5,122.5" fill="none" stroke="#111" stroke-width="0.8"/>
<polyline points="746.5,109.5 750.5,109.5" fill="none" stroke="#111" stroke-width="1.3"/>
<polyline points="748.5,106.5 748.5,111.5" fill="none" stroke="#111" stroke-width="1.3"/>
<polyline points="746.5,122.5 750.5,122.5" fill="none" stroke="#111" stroke-width="1.3"/>
<path d="M757.5 111.55 H752.8 L751.7 120.55 M750.9 120.55 H754.5 L755.8 111.55" fill="none" stroke="#333" stroke-width="0.85"/>
<polyline points="766.5,115.5 801.5,115.5" fill="none" stroke="#111" stroke-width="1.3"/>
<polyline points="757.5,121.5 757.5,125.5 801.5,125.5" fill="none" stroke="#111" stroke-width="1.3"/>
<path d="M744 132.5 L766.4 145.8 L744 159 Z" fill="#fff" stroke="#111" stroke-width="0.9"/>
<polyline points="744,139.3 750.5,139.3" fill="none" stroke="#111" stroke-width="0.8"/>
<polyline points="744,151 750.5,151" fill="none" stroke="#111" stroke-width="0.8"/>
<polyline points="746.5,139.5 750.5,139.5" fill="none" stroke="#111" stroke-width="1.3"/>
<polyline points="748.5,136.5 748.5,141.5" fill="none" stroke="#111" stroke-width="1.3"/>
<polyline points="746.5,151.5 750.5,151.5" fill="none" stroke="#111" stroke-width="1.3"/>
<path d="M757.5 141.55 H752.8 L751.7 150.55 M750.9 150.55 H754.5 L755.8 141.55" fill="none" stroke="#333" stroke-width="0.85"/>
<polyline points="766.5,145.5 801.5,145.5" fill="none" stroke="#111" stroke-width="1.3"/>
<polyline points="757.5,151.5 757.5,155.5 801.5,155.5" fill="none" stroke="#111" stroke-width="1.3"/>
<polyline points="735.5,77.5 744.5,77.5" fill="none" stroke="#111" stroke-width="1.3"/>
<polyline points="735.5,122.5 744.5,122.5" fill="none" stroke="#111" stroke-width="1.3"/>
<polyline points="735.5,151.5 744.5,151.5" fill="none" stroke="#111" stroke-width="1.3"/>
<polyline points="744.5,92.5 666.5,92.5 666.5,104.5" fill="none" stroke="#111" stroke-width="1.3"/>
<polyline points="656.5,104.5 676.5,104.5" fill="none" stroke="#111" stroke-width="1.2"/>
<polyline points="661.5,108.5 671.5,108.5" fill="none" stroke="#111" stroke-width="1.2"/>
<polyline points="666.5,108.5 666.5,116.5" fill="none" stroke="#111" stroke-width="1.3"/>
<polyline points="659.5,116.5 672.5,116.5" fill="none" stroke="#111" stroke-width="1.3"/>
<polyline points="663.5,117.2 660.7,120.9" fill="none" stroke="#111" stroke-width="0.8"/>
<polyline points="667.5,117.2 664.7,120.9" fill="none" stroke="#111" stroke-width="0.8"/>
<polyline points="671.5,117.2 668.7,120.9" fill="none" stroke="#111" stroke-width="0.8"/>
<polyline points="744.5,109.5 694.5,109.5 694.5,119.5" fill="none" stroke="#111" stroke-width="1.3"/>
<polyline points="684.5,119.5 704.5,119.5" fill="none" stroke="#111" stroke-width="1.2"/>
<polyline points="689.5,124.5 699.5,124.5" fill="none" stroke="#111" stroke-width="1.2"/>
<polyline points="694.5,124.5 694.5,133.5" fill="none" stroke="#111" stroke-width="1.3"/>
<polyline points="688.5,133.5 701.5,133.5" fill="none" stroke="#111" stroke-width="1.3"/>
<polyline points="691.9,134.1 689.1,137.8" fill="none" stroke="#111" stroke-width="0.8"/>
<polyline points="695.9,134.1 693.1,137.8" fill="none" stroke="#111" stroke-width="0.8"/>
<polyline points="699.9,134.1 697.1,137.8" fill="none" stroke="#111" stroke-width="0.8"/>
<polyline points="744.5,139.5 715.5,139.5 715.5,150.5" fill="none" stroke="#111" stroke-width="1.3"/>
<polyline points="705.5,150.5 725.5,150.5" fill="none" stroke="#111" stroke-width="1.2"/>
<polyline points="710.5,154.5 720.5,154.5" fill="none" stroke="#111" stroke-width="1.2"/>
<polyline points="715.5,154.5 715.5,162.5" fill="none" stroke="#111" stroke-width="1.3"/>
<polyline points="708.5,162.5 721.5,162.5" fill="none" stroke="#111" stroke-width="1.3"/>
<polyline points="712.6,163 709.8,166.7" fill="none" stroke="#111" stroke-width="0.8"/>
<polyline points="716.6,163 713.8,166.7" fill="none" stroke="#111" stroke-width="0.8"/>
<polyline points="720.6,163 717.8,166.7" fill="none" stroke="#111" stroke-width="0.8"/>
<polyline points="841.5,85.5 914.5,85.5 914.5,231.5" fill="none" stroke="#111" stroke-width="1.3"/>
<polyline points="841.5,115.5 885.5,115.5 885.5,454.5 898.5,454.5" fill="none" stroke="#111" stroke-width="1.3"/>
<polyline points="841.5,142.5 867.5,142.5 867.5,522.5 896.5,522.5" fill="none" stroke="#111" stroke-width="1.3"/>
<polyline points="833.5,161.5 833.5,236.5 905.5,236.5" fill="none" stroke="#111" stroke-width="1.3"/>
<path d="M928 223 L905.6 236.4 L928 249.9 Z" fill="#fff" stroke="#111" stroke-width="0.9"/>
<polyline points="921.5,229.7 928,229.7" fill="none" stroke="#111" stroke-width="0.8"/>
<polyline points="921.5,243.6 928,243.6" fill="none" stroke="#111" stroke-width="0.8"/>
<polyline points="921.5,229.5 925.5,229.5" fill="none" stroke="#111" stroke-width="1.3"/>
<polyline points="923.5,227.5 923.5,232.5" fill="none" stroke="#111" stroke-width="1.3"/>
<polyline points="921.5,243.5 925.5,243.5" fill="none" stroke="#111" stroke-width="1.3"/>
<polyline points="928.5,229.5 962.5,229.5" fill="none" stroke="#111" stroke-width="1.3"/>
<polyline points="928.5,243.5 940.5,243.5 940.5,253.5" fill="none" stroke="#111" stroke-width="1.3"/>
<polyline points="930.5,253.5 949.5,253.5" fill="none" stroke="#111" stroke-width="1.2"/>
<polyline points="935.5,258.5 945.5,258.5" fill="none" stroke="#111" stroke-width="1.2"/>
<polyline points="940.5,258.5 940.5,276.5 915.5,276.5" fill="none" stroke="#111" stroke-width="1.3"/>
<path d="M948.6 334.5 L926.9 348 L948.6 361.2 Z" fill="#fff" stroke="#111" stroke-width="0.9"/>
<polyline points="942.1,340.6 948.6,340.6" fill="none" stroke="#111" stroke-width="0.8"/>
<polyline points="942.1,354.7 948.6,354.7" fill="none" stroke="#111" stroke-width="0.8"/>
<polyline points="941.5,340.5 946.5,340.5" fill="none" stroke="#111" stroke-width="1.3"/>
<polyline points="944.5,338.5 944.5,342.5" fill="none" stroke="#111" stroke-width="1.3"/>
<polyline points="942.5,354.5 946.5,354.5" fill="none" stroke="#111" stroke-width="1.3"/>
<polyline points="948.5,340.5 962.5,340.5" fill="none" stroke="#111" stroke-width="1.3"/>
<polyline points="948.5,354.5 962.5,354.5 962.5,365.5" fill="none" stroke="#111" stroke-width="1.3"/>
<polyline points="952.5,365.5 971.5,365.5" fill="none" stroke="#111" stroke-width="1.2"/>
<polyline points="957.5,370.5 967.5,370.5" fill="none" stroke="#111" stroke-width="1.2"/>
<polyline points="962.5,370.5 962.5,378.5" fill="none" stroke="#111" stroke-width="1.3"/>
<polyline points="955.5,378.5 968.5,378.5" fill="none" stroke="#111" stroke-width="1.3"/>
<polyline points="959.4,379.2 956.6,382.9" fill="none" stroke="#111" stroke-width="0.8"/>
<polyline points="963.4,379.2 960.6,382.9" fill="none" stroke="#111" stroke-width="0.8"/>
<polyline points="967.4,379.2 964.6,382.9" fill="none" stroke="#111" stroke-width="0.8"/>
<circle cx="838" cy="414.6" r="2.6" fill="#111"/>
<polyline points="833.5,412.8 843,412.8" fill="none" stroke="#111" stroke-width="1"/>
<polyline points="838.5,414.5 838.5,426.5" fill="none" stroke="#111" stroke-width="1.3"/>
<path d="M833.4 423 L842.6 429.2 L833.4 435.4 Z" fill="#fff" stroke="#111" stroke-width="0.9"/>
<circle cx="844.4" cy="429.2" r="1.7" fill="#fff" stroke="#111" stroke-width="0.8"/>
<polyline points="838.5,432.5 838.5,443.5" fill="none" stroke="#111" stroke-width="1.3"/>
<polyline points="831.5,443.5 844.5,443.5" fill="none" stroke="#111" stroke-width="1.3"/>
<polyline points="835.3,444.3 832.5,448" fill="none" stroke="#111" stroke-width="0.8"/>
<polyline points="839.3,444.3 836.5,448" fill="none" stroke="#111" stroke-width="0.8"/>
<polyline points="843.3,444.3 840.5,448" fill="none" stroke="#111" stroke-width="0.8"/>
<polyline points="846.5,429.5 854.5,429.5 854.5,649.5" fill="none" stroke="#111" stroke-width="1.3"/>
<path d="M896.4 447.8 H902.15 A7.05 7.05 0 0 1 902.15 461.9 H896.4 Z" fill="#fff" stroke="#111" stroke-width="0.9"/>
<circle cx="911" cy="454.85" r="1.7" fill="#fff" stroke="#111" stroke-width="0.8"/>
<polyline points="912.5,454.5 921.5,454.5" fill="none" stroke="#111" stroke-width="1.3"/>
<path d="M921.4 448.4 L931.6 454.9 L921.4 461.4 Z" fill="#fff" stroke="#111" stroke-width="0.9"/>
<circle cx="933.4" cy="454.9" r="1.7" fill="#fff" stroke="#111" stroke-width="0.8"/>
<polyline points="935.5,454.5 945.5,454.5" fill="none" stroke="#111" stroke-width="1.3"/>
<polyline points="945.5,449.5 945.5,460.5" fill="none" stroke="#111" stroke-width="1.1"/>
<polyline points="947.5,449.5 947.5,452.5" fill="none" stroke="#111" stroke-width="1.1"/>
<polyline points="947.5,453.5 947.5,456.5" fill="none" stroke="#111" stroke-width="1.1"/>
<polyline points="947.5,457.5 947.5,461.5" fill="none" stroke="#111" stroke-width="1.1"/>
<polyline points="947.5,450.5 952.5,450.5 952.5,436.5" fill="none" stroke="#111" stroke-width="1.3"/>
<circle cx="952.9" cy="434.6" r="1.4" fill="#fff" stroke="#111" stroke-width="0.7"/>
<polyline points="947.5,434.5 958.5,434.5" fill="none" stroke="#111" stroke-width="1.3"/>
<polyline points="947.5,459.5 952.5,459.5 952.5,472.5 962.5,472.5" fill="none" stroke="#111" stroke-width="1.3"/>
<polyline points="947.5,455.5 952.5,455.5" fill="none" stroke="#111" stroke-width="1.3"/>
<path d="M949 455 L951.5 453.5 L951.5 456.5 Z" fill="#111" stroke="#111" stroke-width="0.5"/>
<path d="M893.6 515.2 H899.35 A7.25 7.25 0 0 1 899.35 529.7 H893.6 Z" fill="#fff" stroke="#111" stroke-width="0.9"/>
<circle cx="908.4" cy="522.45" r="1.7" fill="#fff" stroke="#111" stroke-width="0.8"/>
<polyline points="910.5,522.5 921.5,522.5" fill="none" stroke="#111" stroke-width="1.3"/>
<path d="M921.4 516.1 L932 522.9 L921.4 529.7 Z" fill="#fff" stroke="#111" stroke-width="0.9"/>
<circle cx="933.8" cy="522.9" r="1.7" fill="#fff" stroke="#111" stroke-width="0.8"/>
<polyline points="935.5,522.5 962.5,522.5" fill="none" stroke="#111" stroke-width="1.3"/>
<polyline points="921,506.3 931,506.3" fill="none" stroke="#111" stroke-width="1"/>
<circle cx="926" cy="506.3" r="1.8" fill="#111"/>
<polyline points="926.5,506.5 926.5,518.5" fill="none" stroke="#111" stroke-width="1.3"/>
<polyline points="926.5,527.5 926.5,535.5" fill="none" stroke="#111" stroke-width="1.3"/>
<polyline points="919.5,535.5 932.5,535.5" fill="none" stroke="#111" stroke-width="1.3"/>
<polyline points="923.3,536.1 920.5,539.8" fill="none" stroke="#111" stroke-width="0.8"/>
<polyline points="927.3,536.1 924.5,539.8" fill="none" stroke="#111" stroke-width="0.8"/>
<polyline points="931.3,536.1 928.5,539.8" fill="none" stroke="#111" stroke-width="0.8"/>
<polyline points="400.5,33.5 400.5,51.5 425.5,51.5 425.5,35.5" fill="none" stroke="#111" stroke-width="1.3"/>
<polyline points="419.5,35.5 432.5,35.5" fill="none" stroke="#111" stroke-width="1.3"/>
<circle cx="425.2" cy="34.3" r="1.5" fill="#fff" stroke="#111" stroke-width="0.7"/>
<ellipse cx="103.7" cy="61" rx="13.6" ry="9.2" fill="#fff" stroke="#111" stroke-width="1"/>
<text x="103.9" y="63.52" font-size="7" text-anchor="middle" fill="#2a2a2a" font-weight="bold" letter-spacing="0.4">VC1</text>
<ellipse cx="103.7" cy="147" rx="13.6" ry="9.2" fill="#fff" stroke="#111" stroke-width="1"/>
<text x="103.9" y="149.52" font-size="7" text-anchor="middle" fill="#2a2a2a" font-weight="bold" letter-spacing="0.4">VC2</text>
<ellipse cx="103.7" cy="233" rx="13.6" ry="9.2" fill="#fff" stroke="#111" stroke-width="1"/>
<text x="103.9" y="235.52" font-size="7" text-anchor="middle" fill="#2a2a2a" font-weight="bold" letter-spacing="0.4">VC3</text>
<ellipse cx="103.7" cy="319" rx="13.6" ry="9.2" fill="#fff" stroke="#111" stroke-width="1"/>
<text x="103.9" y="321.52" font-size="7" text-anchor="middle" fill="#2a2a2a" font-weight="bold" letter-spacing="0.4">VC4</text>
<ellipse cx="103.7" cy="405" rx="13.6" ry="9.2" fill="#fff" stroke="#111" stroke-width="1"/>
<text x="103.9" y="407.52" font-size="7" text-anchor="middle" fill="#2a2a2a" font-weight="bold" letter-spacing="0.4">VC5</text>
<ellipse cx="103.7" cy="491" rx="13.6" ry="9.2" fill="#fff" stroke="#111" stroke-width="1"/>
<text x="103.9" y="493.52" font-size="7" text-anchor="middle" fill="#2a2a2a" font-weight="bold" letter-spacing="0.4">VSS</text>
<ellipse cx="400.9" cy="23.8" rx="13.6" ry="9.2" fill="#fff" stroke="#111" stroke-width="1"/>
<text x="401.1" y="26.32" font-size="7" text-anchor="middle" fill="#2a2a2a" font-weight="bold" letter-spacing="0.4">VDD</text>
<ellipse cx="501" cy="24" rx="13.6" ry="9.2" fill="#fff" stroke="#111" stroke-width="1"/>
<text x="501.2" y="26.52" font-size="7" text-anchor="middle" fill="#2a2a2a" font-weight="bold" letter-spacing="0.4">CTLD</text>
<ellipse cx="535" cy="24" rx="13.6" ry="9.2" fill="#fff" stroke="#111" stroke-width="1"/>
<text x="535.2" y="26.52" font-size="7" text-anchor="middle" fill="#2a2a2a" font-weight="bold" letter-spacing="0.4">CTLC</text>
<ellipse cx="705.8" cy="23.4" rx="13.6" ry="9.2" fill="#fff" stroke="#111" stroke-width="1"/>
<text x="706" y="25.92" font-size="7" text-anchor="middle" fill="#2a2a2a" font-weight="bold" letter-spacing="0.4">VR</text>
<ellipse cx="735" cy="23.4" rx="13.6" ry="9.2" fill="#fff" stroke="#111" stroke-width="1"/>
<text x="735.2" y="25.92" font-size="7" text-anchor="middle" fill="#2a2a2a" font-weight="bold" letter-spacing="0.4">TEP</text>
<ellipse cx="976" cy="228.7" rx="13.6" ry="9.2" fill="#fff" stroke="#111" stroke-width="1"/>
<text x="976.2" y="231.22" font-size="7" text-anchor="middle" fill="#2a2a2a" font-weight="bold" letter-spacing="0.4">VMPD</text>
<ellipse cx="976" cy="339" rx="13.6" ry="9.2" fill="#fff" stroke="#111" stroke-width="1"/>
<text x="976.2" y="341.52" font-size="7" text-anchor="middle" fill="#2a2a2a" font-weight="bold" letter-spacing="0.4">VMPC</text>
<ellipse cx="975.7" cy="472.9" rx="13.6" ry="9.2" fill="#fff" stroke="#111" stroke-width="1"/>
<text x="975.9" y="475.42" font-size="7" text-anchor="middle" fill="#2a2a2a" font-weight="bold" letter-spacing="0.4">COUT</text>
<ellipse cx="975.7" cy="523" rx="13.6" ry="9.2" fill="#fff" stroke="#111" stroke-width="1"/>
<text x="975.9" y="525.52" font-size="7" text-anchor="middle" fill="#2a2a2a" font-weight="bold" letter-spacing="0.4">DOUT</text>
<ellipse cx="355.9" cy="658.9" rx="13.6" ry="9.2" fill="#fff" stroke="#111" stroke-width="1"/>
<text x="356.1" y="661.42" font-size="7" text-anchor="middle" fill="#2a2a2a" font-weight="bold" letter-spacing="0.4">SEL</text>
<ellipse cx="606.1" cy="658.7" rx="16.2" ry="9.2" fill="#fff" stroke="#111" stroke-width="1"/>
<text x="606.3" y="661.22" font-size="7" text-anchor="middle" fill="#2a2a2a" font-weight="bold" letter-spacing="0.4">SENSN</text>
<ellipse cx="643.9" cy="658.7" rx="16.2" ry="9.2" fill="#fff" stroke="#111" stroke-width="1"/>
<text x="644.1" y="661.22" font-size="7" text-anchor="middle" fill="#2a2a2a" font-weight="bold" letter-spacing="0.4">SENSP</text>
<ellipse cx="680.7" cy="658.7" rx="13.6" ry="9.2" fill="#fff" stroke="#111" stroke-width="1"/>
<text x="680.9" y="661.22" font-size="7" text-anchor="middle" fill="#2a2a2a" font-weight="bold" letter-spacing="0.4">CT1</text>
<ellipse cx="758.2" cy="658.7" rx="13.6" ry="9.2" fill="#fff" stroke="#111" stroke-width="1"/>
<text x="758.4" y="661.22" font-size="7" text-anchor="middle" fill="#2a2a2a" font-weight="bold" letter-spacing="0.4">CT2</text>
<ellipse cx="853.9" cy="658.7" rx="13.6" ry="9.2" fill="#fff" stroke="#111" stroke-width="1"/>
<text x="854.1" y="661.22" font-size="7" text-anchor="middle" fill="#2a2a2a" font-weight="bold" letter-spacing="0.4">DRAIN</text>
</svg>
</body></html>
